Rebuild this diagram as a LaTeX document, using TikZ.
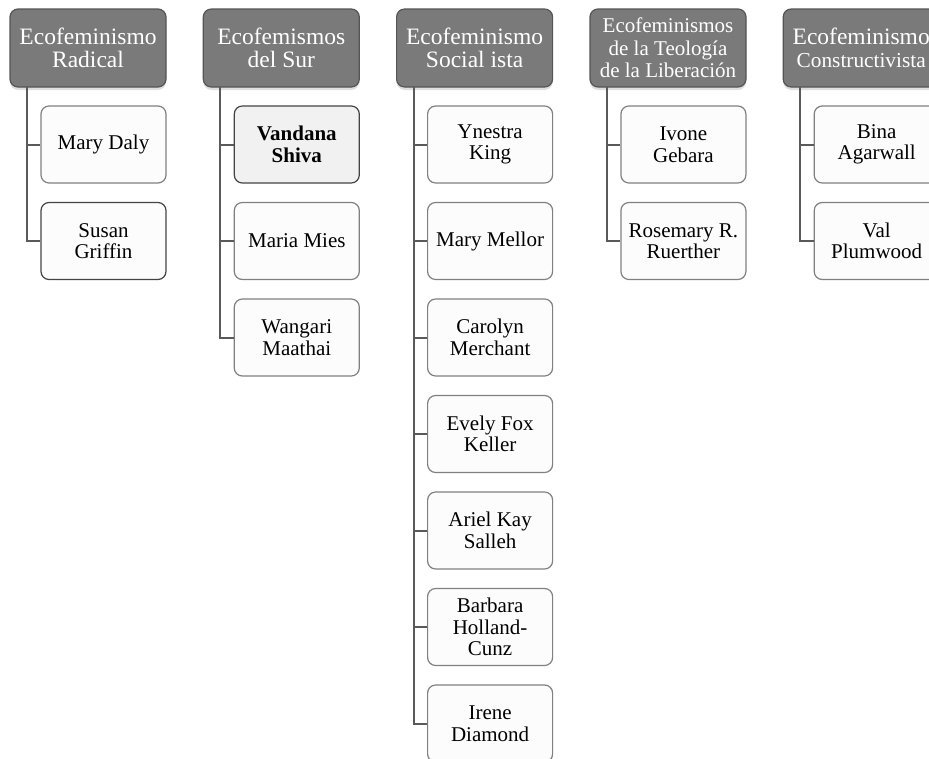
\documentclass[tikz,border=0pt]{standalone}
\usepackage{fontspec}
\setmainfont{Liberation Serif}
\usetikzlibrary{shadows}
\definecolor{hdrfill}{HTML}{7A7A7A}
\definecolor{hdrline}{HTML}{555555}
\definecolor{kidfill}{HTML}{FCFCFC}
\definecolor{kidline}{HTML}{808080}
\definecolor{kiddark}{HTML}{444444}
\definecolor{hilite}{HTML}{F1F1F1}
\definecolor{conncol}{HTML}{5A5A5A}
\begin{document}
\begin{tikzpicture}[x=1pt,y=-1pt,
  hdr/.style={draw=hdrline, fill=hdrfill, line width=1.2pt, rounded corners=8pt,
    minimum width=156pt, minimum height=78pt, inner sep=0pt, align=center,
    text=white, font=\fontsize{23.5}{23.5}\selectfont,
    drop shadow={opacity=0.25, shadow xshift=0pt, shadow yshift=-3pt}},
  kid/.style={draw=kidline, fill=kidfill, line width=1.2pt, rounded corners=8pt,
    minimum width=125pt, minimum height=77pt, inner sep=0pt, align=center,
    font=\fontsize{21}{21.5}\selectfont},
  kidstrong/.style={kid, draw=kiddark},
  kidhi/.style={kid, draw=kiddark, fill=hilite, font=\fontsize{21}{21.5}\selectfont\bfseries},
  conn/.style={draw=conncol, line width=2pt}
]
\useasboundingbox (0,0) rectangle (929,758);
\clip (0,0) rectangle (929,758);

% headers
\node[hdr] (h1) at (88,48) {Ecofeminismo\\Radical};
\node[hdr] (h2) at (281.3,48) {Ecofemismos\\del Sur};
\node[hdr] (h3) at (474.6,48) {Ecofeminismo\\Social ista};
\node[hdr, font=\fontsize{21}{22.5}\selectfont] (h4) at (668,48) {Ecofeminismos\\de la Teología\\de la Liberación};
\node[hdr] (h5) at (861.2,48) {Ecofeminismo\\{\fontsize{21.3}{21.3}\selectfont Constructivista}};

% column 1
\node[kid] (k11) at (103.5,144.5) {Mary Daly};
\node[kidstrong] (k12) at (103.5,241) {Susan\\Griffin};
% column 2
\node[kidhi] (k21) at (296.8,144.5) {Vandana\\Shiva};
\node[kid] (k22) at (296.8,241) {Maria Mies};
\node[kid] (k23) at (296.8,337.5) {Wangari\\Maathai};
% column 3
\node[kid] (k31) at (490.1,144.5) {Ynestra\\King};
\node[kid] (k32) at (490.1,241) {Mary Mellor};
\node[kid] (k33) at (490.1,337.5) {Carolyn\\Merchant};
\node[kid] (k34) at (490.1,434) {Evely Fox\\Keller};
\node[kid] (k35) at (490.1,530.5) {Ariel Kay\\Salleh};
\node[kid] (k36) at (490.1,627) {Barbara\\Holland-\\Cunz};
\node[kid] (k37) at (490.1,723.5) {Irene\\Diamond};
% column 4
\node[kid] (k41) at (683.4,144.5) {Ivone\\Gebara};
\node[kid] (k42) at (683.4,241) {Rosemary R.\\Ruerther};
% column 5
\node[kid] (k51) at (876.7,144.5) {Bina\\Agarwall};
\node[kid] (k52) at (876.7,241) {Val\\Plumwood};

% connectors
\foreach \h/\k in {h1/k11,h1/k12,h2/k21,h2/k22,h2/k23,
  h3/k31,h3/k32,h3/k33,h3/k34,h3/k35,h3/k36,h3/k37,
  h4/k41,h4/k42,h5/k51,h5/k52}
  \draw[conn] ([xshift=-61pt,yshift=0.6pt]\h.south) |- (\k.west);
\end{tikzpicture}
\end{document}
